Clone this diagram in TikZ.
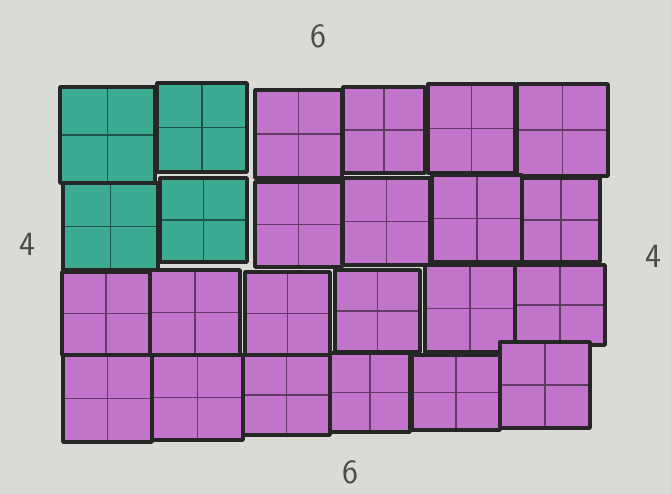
\documentclass[tikz,border=0pt]{standalone}
\usetikzlibrary{positioning}
\definecolor{paper}{HTML}{DADAD7}
\definecolor{tilegreen}{HTML}{3DAA92}
\definecolor{tilepink}{HTML}{C273CA}
\begin{document}
\begin{tikzpicture}[x=1pt, y=-1pt,
  tile/.style={draw=black!85, line width=3.4pt, line join=round},
  seam/.style={line width=1.2pt},
  side/.style={font=\sffamily\fontsize{34}{34}\selectfont, text=black!70},
]
  % paper
  \fill[paper] (0,0) rectangle (671,494);
  \useasboundingbox (0,0) rectangle (671,494);

  % tiles: left/top/right/bottom/colour, row by row
  \foreach \xa/\ya/\xb/\yb/\c in {
      60/87/155/183/tilegreen, 157/83/247/172/tilegreen, 255/90/342/178/tilepink,
      343/87/425/173/tilepink, 428/84/515/173/tilepink, 517/84/608/176/tilepink,
      63/183/158/270/tilegreen, 160/178/247/262/tilegreen, 255/182/342/267/tilepink,
      343/178/430/265/tilepink, 432/175/522/262/tilepink, 522/178/600/262/tilepink,
      62/272/150/355/tilepink, 150/270/240/355/tilepink, 245/272/330/355/tilepink,
      335/270/420/352/tilepink, 425/265/515/352/tilepink, 515/265/605/345/tilepink,
      63/355/152/442/tilepink, 152/355/243/440/tilepink, 243/355/330/435/tilepink,
      330/353/410/432/tilepink, 412/355/500/430/tilepink, 500/342/590/428/tilepink} {
    \fill[fill=\c] (\xa,\ya) rectangle (\xb,\yb);
    \draw[seam, draw=\c!50!black]
      ({(\xa+\xb)/2},\ya) -- ({(\xa+\xb)/2},\yb)
      (\xa,{(\ya+\yb)/2}) -- (\xb,{(\ya+\yb)/2});
    \draw[tile] (\xa,\ya) rectangle (\xb,\yb);
  }

  % side lengths
  \node[side] (top) at (318,36) {6};
  \node[side] (bottom) at (350,472) {6};
  \node[side] (left) at (27,244) {4};
  \node[side] (right) at (653,256) {4};
\end{tikzpicture}
\end{document}
